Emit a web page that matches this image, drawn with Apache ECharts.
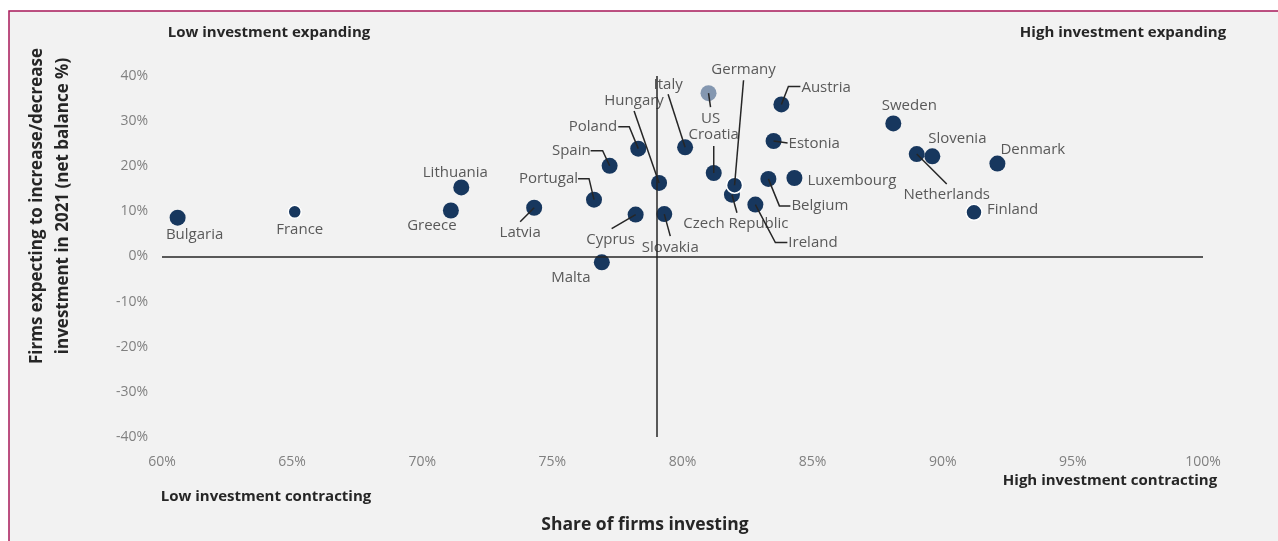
<!DOCTYPE html>
<html>
<head>
<meta charset="utf-8">
<script src="https://cdn.jsdelivr.net/npm/echarts@6/dist/echarts.min.js"></script>
<style>
  html, body { margin: 0; padding: 0; background: #fff; }
  #container { width: 1278px; height: 541px; }
</style>
</head>
<body>
<div id="container"></div>
<script>
// share of firms investing (%), firms expecting to increase/decrease investment (net balance %)
var countries = ['Bulgaria', 'France', 'Greece', 'Lithuania', 'Latvia', 'Portugal', 'Malta', 'Spain',
  'Cyprus', 'Poland', 'Hungary', 'Slovakia', 'Italy', 'US', 'Croatia', 'Czech Republic', 'Germany',
  'Ireland', 'Belgium', 'Luxembourg', 'Estonia', 'Austria', 'Sweden', 'Netherlands', 'Slovenia',
  'Denmark', 'Finland'];
var shareInvesting = [60.6, 65.1, 71.1, 71.5, 74.3, 76.6, 76.9, 77.2,
  78.2, 78.3, 79.1, 79.3, 80.1, 81.0, 81.2, 81.9, 82.0,
  82.8, 83.3, 84.3, 83.5, 83.8, 88.1, 89.0, 89.6,
  92.1, 91.2];
var netBalance = [8.6, 9.9, 10.2, 15.3, 10.8, 12.6, -1.3, 20.1,
  9.3, 23.9, 16.3, 9.4, 24.2, 36.2, 18.5, 13.7, 15.8,
  11.5, 17.2, 17.4, 25.6, 33.7, 29.5, 22.7, 22.2,
  20.6, 9.8];
var euAverage = 79.0;
var xTicks = [60, 65, 70, 75, 80, 85, 90, 95, 100];
var yTicks = [-40, -30, -20, -10, 0, 10, 20, 30, 40];

// label placement relative to the point centre: [dx, dy, align, leader line points]
var labelPos = {
  'Bulgaria': [17, 17, 'center'],
  'France': [5, 18, 'center'],
  'Greece': [-19, 15, 'center'],
  'Lithuania': [-6, -15, 'center'],
  'Latvia': [-14, 25, 'center', [[-14, 14]]],
  'Portugal': [-16, -21, 'right', [[-5, -21], [-16, -21]]],
  'Malta': [-31, 15, 'center'],
  'Spain': [-19, -15, 'right', [[-7, -15], [-19, -15]]],
  'Cyprus': [-25, 25, 'center', [[-24, 14]]],
  'Poland': [-21, -22, 'right', [[-9, -22], [-20, -22]]],
  'Hungary': [-25, -82, 'center', [[-25, -72]]],
  'Slovakia': [6, 34, 'center', [[6, 22]]],
  'Italy': [-17, -63, 'center', [[-17, -53]]],
  'US': [2, 26, 'center', [[2, 14]]],
  'Croatia': [0, -38, 'center', [[0, -27]]],
  'Czech Republic': [4, 29, 'center', [[5, 18]]],
  'Germany': [9, -115, 'center', [[9, -105]]],
  'Ireland': [33, 38, 'left', [[20, 38], [32, 38]]],
  'Belgium': [23, 27, 'left', [[11, 27], [22, 27]]],
  'Luxembourg': [13, 3, 'left'],
  'Estonia': [15, 3, 'left', [[14, 2]]],
  'Austria': [20, -17, 'left', [[7, -18], [19, -18]]],
  'Sweden': [16, -18, 'center'],
  'Netherlands': [30, 41, 'center', [[30, 30]]],
  'Slovenia': [25, -18, 'center'],
  'Denmark': [3, -14, 'left'],
  'Finland': [13, -3, 'left']
};
var special = {
  'France': { size: 13, border: true },
  'Germany': { border: true },
  'Finland': { border: true },
  'US': { color: '#8497b0' }
};

var navy = '#17375e';
var font = '"Open Sans", "Noto Sans", sans-serif';
var titleColor = '#262626';

var points = countries.map(function (name, i) {
  var s = special[name] || {};
  return {
    name: name,
    value: [shareInvesting[i], netBalance[i]],
    symbolSize: s.size || 16,
    itemStyle: {
      color: s.color || navy,
      opacity: 1,
      borderColor: s.border ? '#ffffff' : 'transparent',
      borderWidth: s.border ? 1.5 : 0
    }
  };
});

function boldText(str, x, y, size) {
  return { type: 'text', x: x, y: y,
    style: { text: str, font: 'bold ' + size + 'px ' + font, fill: titleColor, textAlign: 'center', textVerticalAlign: 'middle' } };
}

var chart = echarts.init(document.getElementById('container'));

var option = {
  animation: false,
  textStyle: { fontFamily: font },
  graphic: [
    { type: 'rect', z: -10, silent: true,
      shape: { x: 9, y: 11, width: 1400, height: 700 },
      style: { fill: '#f2f2f2', stroke: '#a8195a', lineWidth: 1.5 } },
    boldText('Low investment expanding', 269, 33, 15),
    boldText('High investment expanding', 1123, 33, 15),
    boldText('Low investment contracting', 266, 497, 15),
    boldText('High investment contracting', 1110, 481, 15),
    boldText('Share of firms investing', 645, 525, 17.5),
    { type: 'text', x: 50, y: 206, rotation: Math.PI / 2,
      style: { text: 'Firms expecting to increase/decrease\ninvestment in 2021 (net balance %)', font: 'bold 17px ' + font, lineHeight: 26, fill: titleColor, textAlign: 'center', textVerticalAlign: 'middle' } }
  ],
  grid: { left: 162, right: 75, top: 76, bottom: 104 },
  xAxis: {
    type: 'value', min: xTicks[0], max: xTicks[xTicks.length - 1], interval: 5,
    axisLine: { show: false }, axisTick: { show: false }, splitLine: { show: false },
    axisLabel: { formatter: '{value}%', color: '#808080', fontSize: 14, margin: 18, fontFamily: font }
  },
  yAxis: {
    type: 'value', min: yTicks[0], max: yTicks[yTicks.length - 1], interval: 10,
    axisLine: { show: false }, axisTick: { show: false }, splitLine: { show: false },
    axisLabel: { formatter: '{value}%', color: '#808080', fontSize: 14, margin: 14, fontFamily: font }
  },
  series: [
    {
      type: 'scatter',
      data: points,
      z: 3,
      markLine: {
        silent: true, symbol: 'none', label: { show: false },
        lineStyle: { color: '#262626', width: 1.5, type: 'solid' },
        data: [{ yAxis: 0 }, { xAxis: euAverage }]
      }
    },
    {
      type: 'custom',
      z: 4,
      silent: true,
      data: countries.map(function (n, i) { return [shareInvesting[i], netBalance[i]]; }),
      renderItem: function (params, api) {
        var pt = api.coord([api.value(0), api.value(1)]);
        var name = countries[params.dataIndex];
        var cfg = labelPos[name];
        var children = [];
        if (cfg[3]) {
          var line = [[pt[0], pt[1]]].concat(cfg[3].map(function (p) { return [pt[0] + p[0], pt[1] + p[1]]; }));
          children.push({ type: 'polyline', shape: { points: line },
            style: { stroke: '#262626', lineWidth: 1.5, fill: null } });
        }
        children.push({ type: 'text', x: pt[0] + cfg[0], y: pt[1] + cfg[1],
          style: { text: name, fill: '#595959', font: '15px ' + font, textAlign: cfg[2], textVerticalAlign: 'middle' } });
        return { type: 'group', children: children };
      }
    }
  ]
};

chart.setOption(option);
</script>
</body>
</html>
